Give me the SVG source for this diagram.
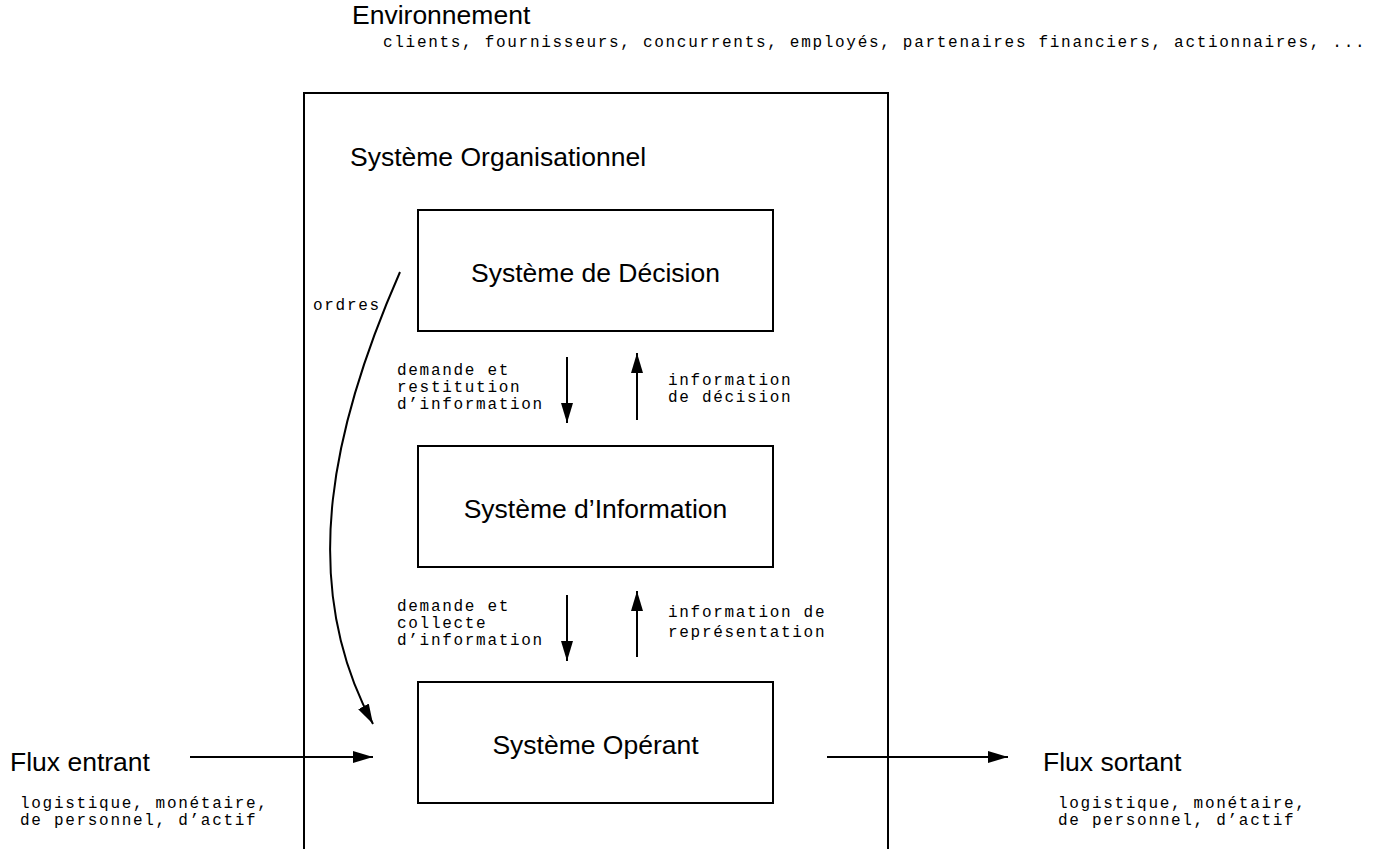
<svg xmlns="http://www.w3.org/2000/svg" width="1385" height="849" viewBox="0 0 1385 849">
  <style>
    .box { fill: none; stroke: #000; stroke-width: 2; }
    .edge { fill: none; stroke: #000; stroke-width: 2; }
    .title { font-family: "Liberation Sans", Arial, sans-serif; font-size: 26.5px; fill: #000; }
    .label { font-family: "Liberation Mono", "Courier New", monospace; font-size: 16px; letter-spacing: 1.7px; fill: #000; }
  </style>
  <defs>
    <marker id="arrow" markerUnits="userSpaceOnUse" markerWidth="20" markerHeight="12" refX="20" refY="6" orient="auto">
      <path d="M0,0 L20,6 L0,12 Z" fill="#000"/>
    </marker>
  </defs>
  <rect width="1385" height="849" fill="#fff"/>

  <!-- environment -->
  <g id="environnement">
    <text class="title" x="352" y="24">Environnement</text>
    <text class="label" x="383" y="47">clients, fournisseurs, concurrents, employés, partenaires financiers, actionnaires, ...</text>
  </g>

  <!-- organisational system (open at the bottom) -->
  <g id="systeme-organisationnel">
    <path class="box" d="M304,849 L304,93 L888,93 L888,849"/>
    <text class="title" x="350" y="166">Système Organisationnel</text>
  </g>

  <g id="systeme-decision">
    <rect class="box" x="418" y="210" width="355" height="121"/>
    <text class="title" x="595.5" y="282" text-anchor="middle">Système de Décision</text>
  </g>

  <g id="systeme-information">
    <rect class="box" x="418" y="446" width="355" height="121"/>
    <text class="title" x="595.5" y="518" text-anchor="middle">Système d’Information</text>
  </g>

  <g id="systeme-operant">
    <rect class="box" x="418" y="682" width="355" height="121"/>
    <text class="title" x="595.5" y="754" text-anchor="middle">Système Opérant</text>
  </g>

  <g id="flux-entrant">
    <text class="title" x="10" y="771">Flux entrant</text>
    <text class="label" x="20" y="808">logistique, monétaire,</text>
    <text class="label" x="20" y="825">de personnel, d’actif</text>
  </g>

  <g id="flux-sortant">
    <text class="title" x="1043" y="771">Flux sortant</text>
    <text class="label" x="1058" y="808">logistique, monétaire,</text>
    <text class="label" x="1058" y="825">de personnel, d’actif</text>
  </g>

  <!-- connectors and their labels -->
  <g id="connecteurs">
    <path class="edge" d="M400,272 C335,420 295,580 373,724" marker-end="url(#arrow)"/>
    <line class="edge" x1="567" y1="357" x2="567" y2="423" marker-end="url(#arrow)"/>
    <line class="edge" x1="637" y1="420" x2="637" y2="353" marker-end="url(#arrow)"/>
    <line class="edge" x1="567" y1="595" x2="567" y2="661" marker-end="url(#arrow)"/>
    <line class="edge" x1="637" y1="657" x2="637" y2="591" marker-end="url(#arrow)"/>
    <line class="edge" x1="190" y1="757" x2="373" y2="757" marker-end="url(#arrow)"/>
    <line class="edge" x1="827" y1="757" x2="1008" y2="757" marker-end="url(#arrow)"/>

    <text class="label" x="313" y="310">ordres</text>
    <text class="label" x="397" y="375">demande et</text>
    <text class="label" x="397" y="392">restitution</text>
    <text class="label" x="397" y="409">d’information</text>
    <text class="label" x="668" y="385">information</text>
    <text class="label" x="668" y="402">de décision</text>
    <text class="label" x="397" y="611">demande et</text>
    <text class="label" x="397" y="628">collecte</text>
    <text class="label" x="397" y="645">d’information</text>
    <text class="label" x="668" y="617">information de</text>
    <text class="label" x="668" y="637">représentation</text>
  </g>
</svg>
